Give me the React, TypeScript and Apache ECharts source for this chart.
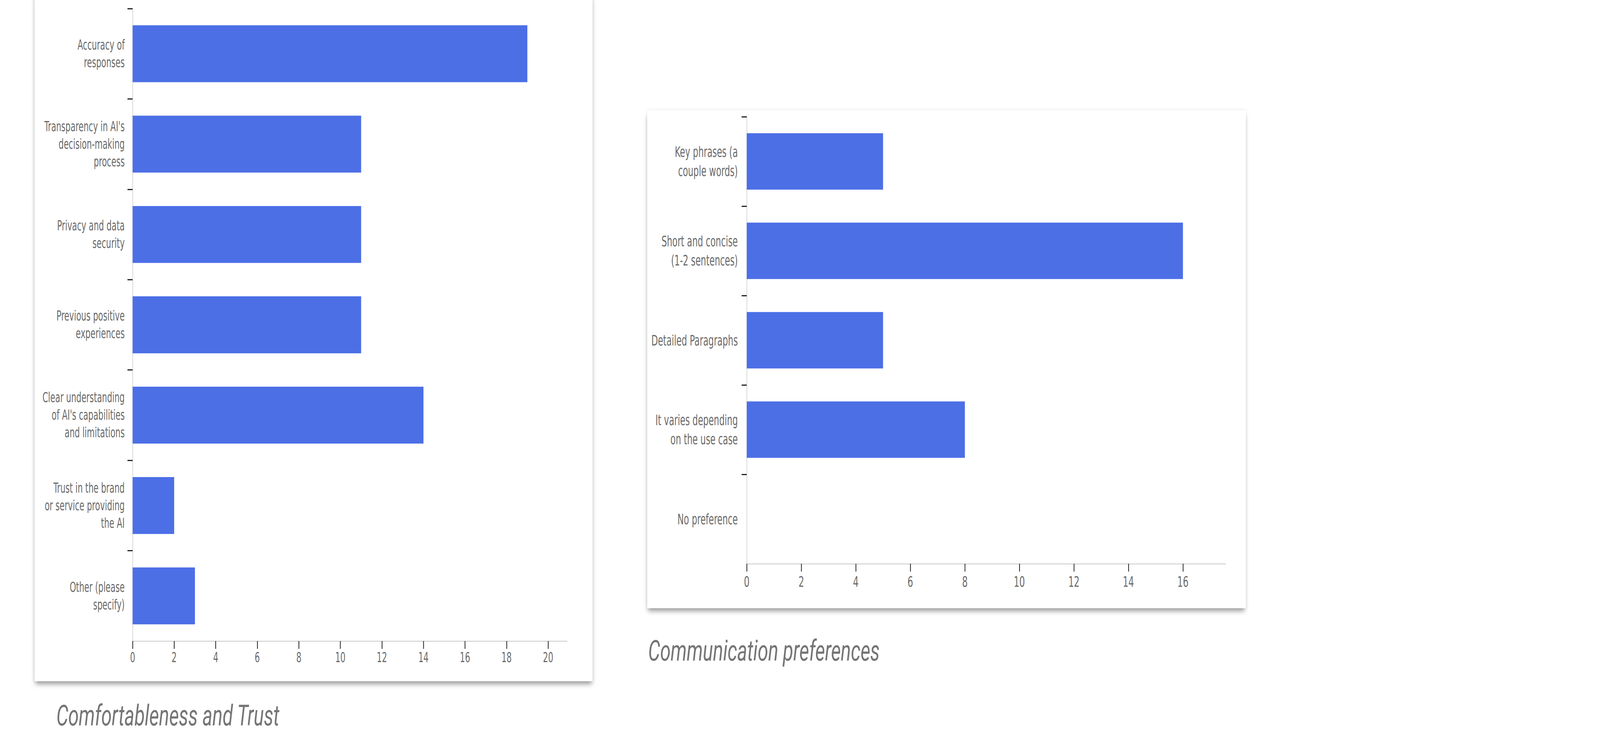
import React, { useEffect, useRef, useState } from "react";
import * as echarts from "echarts";

const trustCategories = [
  "Accuracy of\nresponses",
  "Transparency in AI's\ndecision-making\nprocess",
  "Privacy and data\nsecurity",
  "Previous positive\nexperiences",
  "Clear understanding\nof AI's capabilities\nand limitations",
  "Trust in the brand\nor service providing\nthe AI",
  "Other (please\nspecify)",
];
const trustValues = [19, 11, 11, 11, 14, 2, 3];
const trustTicks = [0, 2, 4, 6, 8, 10, 12, 14, 16, 18, 20];
const trustTitle = "Comfortableness and Trust";

const commCategories = [
  "Key phrases (a\ncouple words)",
  "Short and concise\n(1-2 sentences)",
  "Detailed Paragraphs",
  "It varies depending\non the use case",
  "No preference",
];
const commValues = [5, 16, 5, 8, 0];
const commTicks = [0, 2, 4, 6, 8, 10, 12, 14, 16];
const commTitle = "Communication preferences";

const DESIGN_W = 6250;
const DESIGN_H = 1875;
const BAR = "#4c6fe6";
const AXIS = "#d9d9d9";
const TICK = "#222222";
const LABEL = "#6a6a6a";
const NARROW = "'DejaVu Sans Condensed', 'Liberation Sans Narrow', sans-serif";
const TITLE_FONT = "Roboto, 'Noto Sans', sans-serif";

function valueAxis(grid: number, max: number, ticks: number[], fontSize: number, margin: number) {
  return {
    gridIndex: grid,
    type: "value",
    min: 0,
    max,
    axisLine: { show: true, onZero: false, lineStyle: { color: AXIS, width: 3 } },
    axisTick: { show: true, customValues: ticks, length: 20, lineStyle: { color: TICK, width: 3 } },
    axisLabel: { customValues: ticks, margin, fontSize, color: LABEL, fontFamily: NARROW },
    splitLine: { show: false },
  };
}

function categoryAxes(grid: number, cats: string[], fontSize: number, lineHeight: number, margin: number) {
  return [
    {
      gridIndex: grid,
      type: "category",
      data: cats,
      inverse: true,
      position: "left",
      axisLine: { show: true, onZero: false, lineStyle: { color: AXIS, width: 3 } },
      axisTick: { show: false },
      axisLabel: { margin, fontSize, lineHeight, color: LABEL, fontFamily: NARROW, align: "right" },
      splitLine: { show: false },
    },
    {
      gridIndex: grid,
      type: "value",
      position: "left",
      min: 0,
      max: cats.length,
      inverse: true,
      axisLine: { show: false, onZero: false },
      axisTick: {
        show: true,
        customValues: cats.map((_, i) => i),
        length: 20,
        lineStyle: { color: TICK, width: 3 },
      },
      axisLabel: { show: false },
      splitLine: { show: false },
    },
  ];
}

export default function App() {
  const ref = useRef<HTMLDivElement>(null);
  const [scale, setScale] = useState<[number, number]>([
    typeof window !== "undefined" ? window.innerWidth / DESIGN_W : 1,
    typeof window !== "undefined" ? window.innerHeight / DESIGN_H : 1,
  ]);

  useEffect(() => {
    setScale([window.innerWidth / DESIGN_W, window.innerHeight / DESIGN_H]);
    if (!ref.current) return;
    const chart = echarts.init(ref.current, undefined, { renderer: "svg" });
    chart.setOption({
      animation: false,
      backgroundColor: "transparent",
      grid: [
        { left: 518, top: 22, width: 1697, height: 1620, containLabel: false },
        { left: 2917, top: 299, width: 1870, height: 1145, containLabel: false },
      ],
      xAxis: [valueAxis(0, 20.91, trustTicks, 35, 25), valueAxis(1, 17.56, commTicks, 38, 27)],
      yAxis: [
        ...categoryAxes(0, trustCategories, 35, 45, 31),
        ...categoryAxes(1, commCategories, 37, 50, 35),
      ],
      series: [
        {
          type: "bar",
          xAxisIndex: 0,
          yAxisIndex: 0,
          data: trustValues,
          barCategoryGap: "37%",
          itemStyle: { color: BAR },
        },
        {
          type: "bar",
          xAxisIndex: 1,
          yAxisIndex: 2,
          data: commValues,
          barCategoryGap: "37%",
          itemStyle: { color: BAR },
        },
      ],
      graphic: [
        {
          type: "text",
          x: 220,
          y: 1833,
          style: {
            text: trustTitle,
            fontSize: 74,
            fontStyle: "italic",
            fontFamily: TITLE_FONT,
            fill: "#757575",
            textVerticalAlign: "middle",
          },
        },
        {
          type: "text",
          x: 2532,
          y: 1667,
          style: {
            text: commTitle,
            fontSize: 74,
            fontStyle: "italic",
            fontFamily: TITLE_FONT,
            fill: "#757575",
            textVerticalAlign: "middle",
          },
        },
      ],
    });
    return () => chart.dispose();
  }, []);

  const card = (left: number, top: number, width: number, height: number): React.CSSProperties => ({
    position: "absolute",
    left,
    top,
    width,
    height,
    background: "#ffffff",
    boxShadow: "0 12px 14px -4px rgba(0,0,0,0.35), 0 0 10px rgba(0,0,0,0.10)",
  });

  return (
    <div style={{ position: "fixed", left: 0, top: 0, width: "100vw", height: "100vh", background: "#ffffff", overflow: "hidden" }}>
      <div
        style={{
          position: "absolute",
          left: 0,
          top: 0,
          width: DESIGN_W,
          height: DESIGN_H,
          transform: `scale(${scale[0]}, ${scale[1]})`,
          transformOrigin: "0 0",
        }}
      >
        <div style={card(135, -20, 2180, 1765)} />
        <div style={card(2528, 282, 2339, 1276)} />
        <div ref={ref} style={{ position: "absolute", left: 0, top: 0, width: DESIGN_W, height: DESIGN_H }} />
      </div>
    </div>
  );
}
